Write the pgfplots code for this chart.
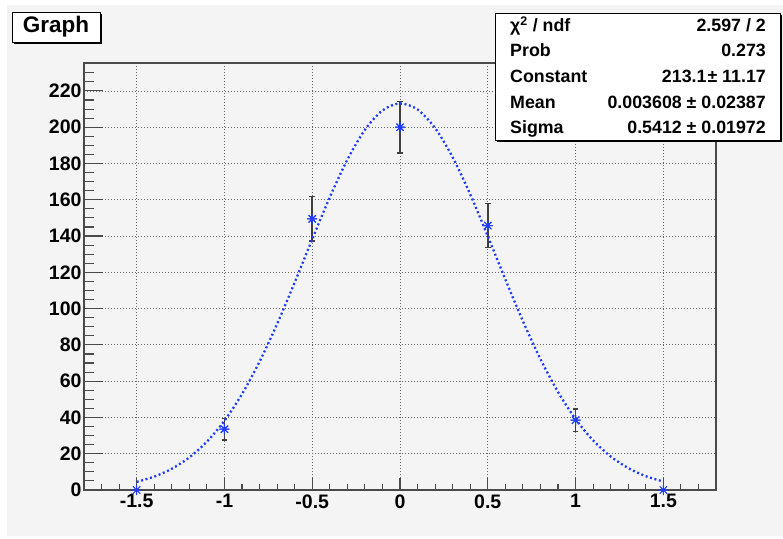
\documentclass[border=0pt]{standalone}
\usepackage{fontspec}
\setmainfont{Liberation Sans}
\usepackage{pgfplots}
\pgfplotsset{compat=1.18}
\definecolor{bg}{HTML}{F4F4F4}
\definecolor{rootblue}{RGB}{30,60,255}
\definecolor{framec}{HTML}{4A4A4A}
\pgfdeclareplotmark{rootstar}{%
  \pgfpathmoveto{\pgfqpoint{-\pgfplotmarksize}{0pt}}\pgfpathlineto{\pgfqpoint{\pgfplotmarksize}{0pt}}%
  \pgfpathmoveto{\pgfqpoint{0pt}{-\pgfplotmarksize}}\pgfpathlineto{\pgfqpoint{0pt}{\pgfplotmarksize}}%
  \pgfpathmoveto{\pgfqpoint{-0.72\pgfplotmarksize}{-0.72\pgfplotmarksize}}\pgfpathlineto{\pgfqpoint{0.72\pgfplotmarksize}{0.72\pgfplotmarksize}}%
  \pgfpathmoveto{\pgfqpoint{-0.72\pgfplotmarksize}{0.72\pgfplotmarksize}}\pgfpathlineto{\pgfqpoint{0.72\pgfplotmarksize}{-0.72\pgfplotmarksize}}%
  \pgfusepathqstroke}
\pgfplotsset{rootaxis/.style={
  at={(84pt,48pt)}, anchor=south west,
  scale only axis, width=632pt, height=427pt,
  xmin=-1.8, xmax=1.8, ymin=0, ymax=235.4,
  axis line style={draw=framec, line width=1.3pt},
  tick align=inside, tick pos=left,
  every tick/.style={draw=framec, line width=1.1pt},
  major grid style={draw=black!60, line width=0.8pt, dash pattern=on 1pt off 2pt},
  /pgf/number format/assume math mode=true,
  tick label style={font=\fontsize{19.5}{19.5}\selectfont\bfseries},
  clip=false,
}}
\begin{document}
\begin{tikzpicture}[x=1pt,y=1pt]
\useasboundingbox (0,0) rectangle (783,538);
\fill[bg] (7,2) rectangle (783,533);
% y axis ticks and grid
\begin{axis}[rootaxis,
  xtick=\empty,
  ytick={0,20,40,60,80,100,120,140,160,180,200,220},
  minor ytick={5,10,15,25,30,35,45,50,55,65,70,75,85,90,95,105,110,115,125,130,135,145,150,155,165,170,175,185,190,195,205,210,215,225,230,235},
  major tick length=19pt, minor tick length=10pt,
  ymajorgrids,
  yticklabel style={xshift=1pt},
]
\addplot[draw=none] coordinates {(0,0)};
\end{axis}
% x axis ticks, grid and data
\begin{axis}[rootaxis,
  ytick=\empty,
  xtick={-1.5,-1,-0.5,0,0.5,1,1.5},
  minor xtick={-1.7,-1.6,-1.4,-1.3,-1.2,-1.1,-0.9,-0.8,-0.7,-0.6,-0.4,-0.3,-0.2,-0.1,0.1,0.2,0.3,0.4,0.6,0.7,0.8,0.9,1.1,1.2,1.3,1.4,1.6,1.7},
  major tick length=12pt, minor tick length=6pt,
  xmajorgrids,
  xticklabel style={yshift=-1pt},
]
\addplot[only marks, mark=rootstar, mark size=5pt, color=rootblue, mark options={line width=1pt},
  error bars/.cd, y dir=both, y explicit,
  error bar style={draw=black!75, line width=1.5pt},
  error mark options={rotate=90, mark size=2.8pt, draw=black!75, line width=1.5pt}]
  coordinates {
  (-1,33.5) +- (0,6)
  (-0.5,149.5) +- (0,12.2)
  (0,200) +- (0,14.1)
  (0.5,145.8) +- (0,12.1)
  (1,38.5) +- (0,6.2)
  };
\addplot[only marks, mark=rootstar, mark size=5pt, color=rootblue, mark options={line width=1pt}]
  coordinates {(-1.5,0) (-1,33.5) (-0.5,149.5) (0,200) (0.5,145.8) (1,38.5) (1.5,0)};
\addplot[color=rootblue, line width=2.3pt, dash pattern=on 2pt off 2.6pt, smooth]
  coordinates {
  (-1.5,4.49) (-1.4,7.38) (-1.3,11.71) (-1.2,17.97) (-1.1,26.65) (-1.0,38.18)
  (-0.9,52.88) (-0.8,70.77) (-0.7,91.53) (-0.6,114.41) (-0.5,138.22) (-0.4,161.37)
  (-0.3,182.07) (-0.2,198.54) (-0.1,209.23) (0,213.10) (0.1,209.75) (0.2,199.52)
  (0.3,183.42) (0.4,162.97) (0.5,139.93) (0.6,116.12) (0.7,93.12) (0.8,72.17)
  (0.9,54.06) (1.0,39.14) (1.1,27.38) (1.2,18.51) (1.3,12.10) (1.4,7.64) (1.5,4.66)
  };
\end{axis}
% title box
\fill[black] (14,494) rectangle (102,524);
\fill[white, draw=black, line width=0.8pt] (12,496) rectangle (100,526);
\node[font=\fontsize{22.5}{22.5}\selectfont\bfseries] at (56,511) {Graph};
% stats box
\fill[black] (497,396) rectangle (782,523);
\fill[white, draw=black, line width=0.8pt] (495,398) rectangle (780,525);
\begin{scope}[every node/.style={font=\fontsize{17.8}{17.8}\selectfont\bfseries, inner sep=0pt}]
\node[anchor=base west] at (510,506.5) {χ\textsuperscript{2} / ndf};
\node[anchor=base east] at (766,506.5) {2.597 / 2};
\node[anchor=base west] at (510,481) {Prob};
\node[anchor=base east] at (766,481) {0.273};
\node[anchor=base west] at (510,455.4) {Constant};
\node[anchor=base east] at (766,455.4) {213.1\kern1pt± 11.17};
\node[anchor=base west] at (510,429.8) {Mean};
\node[anchor=base east] at (766,429.8) {0.003608 ± 0.02387};
\node[anchor=base west] at (510,404.2) {Sigma};
\node[anchor=base east] at (766,404.2) {0.5412 ± 0.01972};
\end{scope}
\end{tikzpicture}
\end{document}
